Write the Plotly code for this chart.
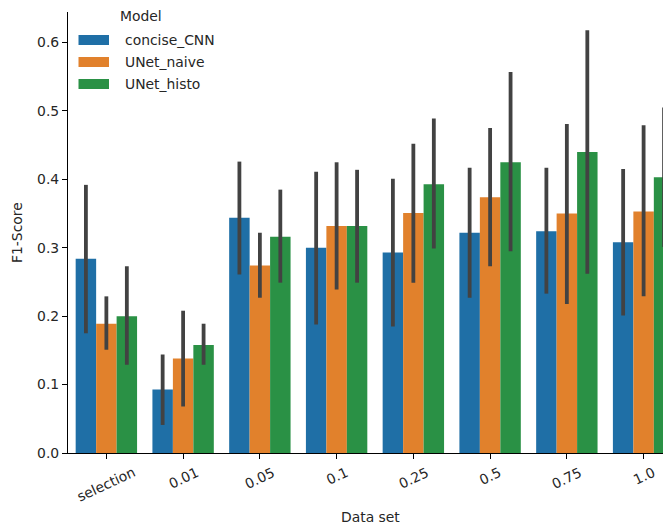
import math
import plotly.graph_objects as go

categories = ["selection", "0.01", "0.05", "0.1", "0.25", "0.5", "0.75", "1.0"]
models = ["concise_CNN", "UNet_naive", "UNet_histo"]

cnn_mean = [0.284, 0.093, 0.344, 0.300, 0.293, 0.322, 0.324, 0.308]
cnn_low = [0.175, 0.041, 0.261, 0.188, 0.185, 0.227, 0.233, 0.201]
cnn_high = [0.392, 0.144, 0.426, 0.411, 0.401, 0.417, 0.417, 0.415]

naive_mean = [0.189, 0.138, 0.274, 0.332, 0.351, 0.374, 0.350, 0.353]
naive_low = [0.151, 0.068, 0.227, 0.239, 0.249, 0.273, 0.218, 0.229]
naive_high = [0.229, 0.208, 0.322, 0.425, 0.452, 0.475, 0.481, 0.479]

histo_mean = [0.200, 0.158, 0.316, 0.332, 0.393, 0.425, 0.440, 0.403]
histo_low = [0.129, 0.129, 0.249, 0.249, 0.299, 0.295, 0.262, 0.301]
histo_high = [0.273, 0.189, 0.385, 0.414, 0.489, 0.557, 0.618, 0.505]

y_ticks = [0.0, 0.1, 0.2, 0.3, 0.4, 0.5, 0.6]

colors = ["#1f6fa6", "#e1812c", "#2a9145"]
FONT = "DejaVu Sans"
FS = 13.9
TXT = "#262626"

series = [
    (cnn_mean, cnn_low, cnn_high),
    (naive_mean, naive_low, naive_high),
    (histo_mean, histo_low, histo_high),
]

fig = go.Figure()
for name, color, (m, lo, hi) in zip(models, colors, series):
    fig.add_trace(go.Bar(
        x=categories, y=m, name=name,
        marker=dict(color=color, line=dict(width=0)),
        error_y=dict(type="data", symmetric=False,
                     array=[h - v for h, v in zip(hi, m)],
                     arrayminus=[v - l for v, l in zip(m, lo)],
                     color="#424242", thickness=3.8, width=0),
        showlegend=False,
    ))

# plot-area geometry (window pixels) used to place hand-drawn elements
W, H = 603.0, 441.0
X0, Y0 = 68.0, 453.0


def px_x(p):
    return (p - X0) / W


def px_y(p):
    return (Y0 - p) / H


def text_w(s):
    return sum(4.4 if ch == "." else 8.8 if ch.isdigit() else 6.9 for ch in s)


annotations = []
shapes = []
ANG = 25
# rotated x tick labels: top of the rotated box just below the ticks, centred on the tick
for i, c in enumerate(categories):
    half = (text_w(c) * math.sin(math.radians(ANG)) + 12.5 * math.cos(math.radians(ANG))) / 2
    yc = 465.5 + half
    annotations.append(dict(x=i, xref="x", y=px_y(yc), yref="paper",
                            text=c, showarrow=False, textangle=-ANG,
                            xanchor="center", yanchor="middle",
                            font=dict(family=FONT, size=FS, color=TXT)))
# axis titles
annotations.append(dict(x=px_x(370), xref="paper", y=px_y(517), yref="paper",
                        text="Data set", showarrow=False, xanchor="center", yanchor="middle",
                        font=dict(family=FONT, size=FS, color=TXT)))
annotations.append(dict(x=px_x(17), xref="paper", y=px_y(233), yref="paper",
                        text="F1-Score", showarrow=False, textangle=-90,
                        xanchor="center", yanchor="middle",
                        font=dict(family=FONT, size=FS, color=TXT)))
# legend (drawn manually with wide patches, like matplotlib)
annotations.append(dict(x=px_x(141), xref="paper", y=px_y(16), yref="paper",
                        text="Model", showarrow=False, xanchor="center", yanchor="middle",
                        font=dict(family=FONT, size=FS, color=TXT)))
for i, (name, color) in enumerate(zip(models, colors)):
    yc = 40 + 22 * i
    shapes.append(dict(type="rect", xref="paper", yref="paper",
                       x0=px_x(78.5), x1=px_x(109), y0=px_y(yc - 5), y1=px_y(yc + 5),
                       fillcolor=color, line=dict(width=0)))
    annotations.append(dict(x=px_x(122.5), xref="paper", y=px_y(yc), yref="paper",
                            text=name, showarrow=False, xanchor="left", yanchor="middle",
                            font=dict(family=FONT, size=FS, color=TXT)))

fig.update_layout(
    width=663, height=520,
    margin=dict(l=60, r=0, t=4, b=75),
    paper_bgcolor="white", plot_bgcolor="white",
    barmode="group", bargap=0.2, bargroupgap=0,
    font=dict(family=FONT, size=FS, color=TXT),
    annotations=annotations, shapes=shapes,
    xaxis=dict(type="category", range=[-0.5, 7.357], showgrid=False, zeroline=False,
               showline=True, linecolor="black", linewidth=1.1,
               ticks="outside", ticklen=5, tickwidth=1.1, tickcolor="black",
               showticklabels=False),
    yaxis=dict(range=[0, 0.6447], showgrid=False, zeroline=False,
               showline=True, linecolor="black", linewidth=1.1,
               ticks="outside", ticklen=5, tickwidth=1.1, tickcolor="black",
               tickvals=y_ticks, tickformat=".1f",
               tickfont=dict(family=FONT, size=FS, color=TXT)),
)

fig.write_html("out.html")
